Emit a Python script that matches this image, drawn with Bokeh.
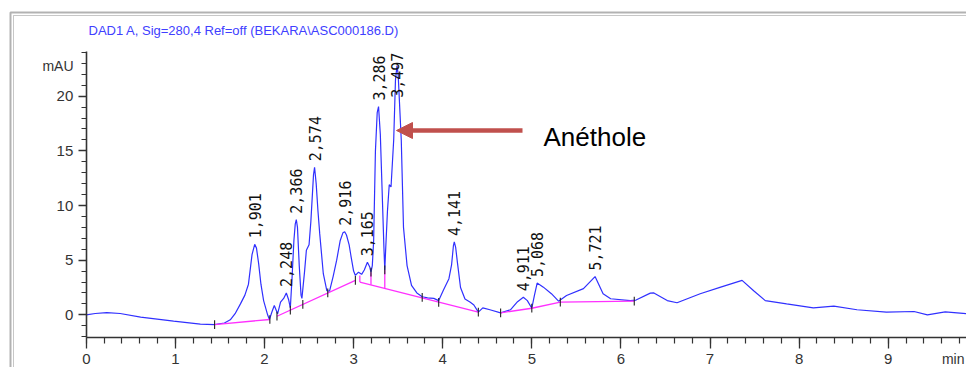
import numpy as np
from bokeh.plotting import figure
from bokeh.models import (Range1d, LinearAxis, FixedTicker, BoxAnnotation, Arrow,
                          NormalHead, Label, ColumnDataSource)
from bokeh.core.properties import value
from bokeh.embed import file_html
from bokeh.resources import INLINE

# ---------------- data ----------------
time_min = [0.00, 0.10, 0.23, 0.38, 0.61, 0.98, 1.28, 1.44, 1.55, 1.616, 1.67, 1.73, 1.78,
            1.82, 1.86, 1.89, 1.91, 1.934, 1.96, 1.99, 2.035, 2.055, 2.085, 2.11, 2.147,
            2.18, 2.215, 2.245, 2.27, 2.29, 2.31, 2.33, 2.345, 2.357, 2.37, 2.39, 2.41,
            2.42, 2.45, 2.47, 2.50, 2.52, 2.55, 2.562, 2.58, 2.60, 2.62, 2.66, 2.70, 2.73,
            2.77, 2.81, 2.85, 2.88, 2.90, 2.92, 2.95, 2.97, 3.00, 3.02, 3.055, 3.09, 3.12,
            3.155, 3.18, 3.195, 3.21, 3.225, 3.245, 3.265, 3.28, 3.30, 3.32, 3.34, 3.35,
            3.36, 3.38, 3.40, 3.42, 3.45, 3.47, 3.487, 3.50, 3.535, 3.56, 3.60, 3.65, 3.71,
            3.77, 3.83, 3.90, 3.955, 4.01, 4.07, 4.10, 4.12, 4.13, 4.145, 4.165, 4.20, 4.25,
            4.31, 4.35, 4.40, 4.45, 4.53, 4.65, 4.76, 4.84, 4.905, 4.95, 5.00, 5.03, 5.06,
            5.13, 5.22, 5.30, 5.39, 5.58, 5.71, 5.80, 5.885, 6.105, 6.17, 6.33, 6.37, 6.52,
            6.63, 6.89, 7.12, 7.36, 7.49, 7.62, 7.86, 8.16, 8.39, 8.65, 8.98, 9.29, 9.44,
            9.64, 9.88]
signal_mau = [0.0, 0.12, 0.2, 0.12, -0.22, -0.58, -0.85, -0.89, -0.75, -0.46, 0.1, 1.0, 1.8,
              2.8, 5.5, 6.45, 6.1, 4.7, 2.8, 1.3, 0.0, -0.43, 0.3, 0.85, 0.09,
              1.16, 1.5, 2.0, 1.4, 0.64, 3.5, 6.8, 8.3, 8.7, 8.0, 4.5, 1.8,
              1.5, 4.0, 5.9, 6.4, 8.5, 12.8, 13.5, 12.0, 9.5, 7.4, 3.76, 2.2, 2.17,
              3.5, 5.0, 6.8, 7.5, 7.6, 7.3, 6.4, 5.4, 4.0, 3.6, 3.9, 3.7, 4.1,
              4.8, 4.4, 3.9, 4.5, 6.8, 15.0, 18.5, 19.05, 16.5, 11.4, 6.2, 4.1,
              6.0, 9.5, 11.9, 11.7, 16.0, 21.5, 22.8, 22.0, 16.0, 8.0, 4.5, 2.7, 2.0,
              1.65, 1.55, 1.5, 1.3, 2.3, 3.3, 4.6, 6.3, 6.66, 6.2, 4.8, 2.5, 1.45,
              1.15, 0.9, 0.24, 0.64, 0.46, 0.18, 0.46, 1.2, 1.6, 1.3, 0.6, 1.8, 2.9,
              2.53, 1.93, 1.25, 1.77, 2.39, 3.5, 1.93, 1.47, 1.3, 1.35, 1.98, 2.0, 1.3,
              1.1, 1.93, 2.53, 3.15, 2.2, 1.3, 1.0, 0.64, 0.79, 0.46, 0.24, 0.3, 0.0,
              0.27, 0.1]

# integration baselines (NaN separates segments)
base_t = [1.44, 2.06, np.nan, 2.14, 3.02, np.nan, 3.07, 4.40, np.nan, 4.65, 5.00, 5.32, 6.15]
base_v = [-0.89, -0.43, np.nan, -0.13, 3.15, np.nan, 3.0, 0.24, np.nan, 0.18, 0.6, 1.16, 1.25]

# drop lines from baseline up to valleys
drop_t = [3.07, 3.195, 3.35]
drop_v0 = [3.0, 2.74, 2.42]
drop_v1 = [3.6, 3.9, 4.1]

# peak start/end tick marks
event_t = [1.44, 2.06, 2.14, 2.29, 2.43, 2.71, 3.02, 3.195, 3.35, 3.77, 3.955, 4.40,
           4.65, 5.00, 5.32, 6.15]
event_v = [-0.89, -0.43, -0.13, 0.43, 0.95, 2.0, 3.15, 3.9, 4.1, 1.6, 1.13, 0.24,
           0.18, 0.6, 1.16, 1.25]

# labelled peaks
peak_labels = ["1,901", "2,248", "2,366", "2,574", "2,916", "3,165", "3,286", "3,497",
               "4,141", "4,911", "5,068", "5,721"]
peak_t = [1.89, 2.245, 2.357, 2.562, 2.90, 3.155, 3.28, 3.487, 4.13, 4.905, 5.06, 5.71]
peak_h = [6.45, 2.0, 8.7, 13.5, 7.6, 4.8, 19.05, 22.8, 6.66, 1.6, 2.9, 3.5]

x_major = [0, 1, 2, 3, 4, 5, 6, 7, 8, 9]
y_major = [0, 5, 10, 15, 20]

title_text = "DAD1 A, Sig=280,4 Ref=off (BEKARA\\ASC000186.D)"
annot_text = "Anéthole"

# ---------------- geometry ----------------
W, H = 966, 367
X0PX, XSCALE = 85.8, 89.1      # px of t=0, px per minute
Y0PX, YSCALE = 314.3, 10.93    # px of 0 mAU, px per mAU


def px2x(px):
    return (px - X0PX) / XSCALE


def py2y(py):
    return (Y0PX - py) / YSCALE


p = figure(width=W, height=H, output_backend="svg", toolbar_location=None,
           x_range=Range1d(px2x(0), px2x(W)), y_range=Range1d(py2y(H), py2y(0)),
           x_axis_type=None, y_axis_type=None, min_border=0)
p.min_border_left = p.min_border_right = p.min_border_top = p.min_border_bottom = 0
p.outline_line_color = None
p.background_fill_color = "white"
p.border_fill_color = "white"

axis_font = "Liberation Sans"
y_bottom, y_top = -2.08, 24.1

xaxis = LinearAxis(fixed_location=y_bottom, bounds=(0, 10.5),
                   ticker=FixedTicker(ticks=x_major, minor_ticks=list(np.round(np.arange(0, 10.0, 0.2), 2))))
yaxis = LinearAxis(fixed_location=0, bounds=(y_bottom, y_top),
                   ticker=FixedTicker(ticks=y_major, minor_ticks=list(range(-2, 25))))
for ax in (xaxis, yaxis):
    ax.axis_line_color = "#333333"
    ax.axis_line_width = 1.6
    ax.major_tick_line_color = "#333333"
    ax.minor_tick_line_color = "#333333"
    ax.major_tick_line_width = 1.3
    ax.minor_tick_line_width = 1.2
    ax.major_tick_in = 0
    ax.minor_tick_in = 0
    ax.major_label_text_font = axis_font
    ax.major_label_text_font_size = "15px"
    ax.major_label_text_color = "#333333"
xaxis.major_tick_out = 11
xaxis.minor_tick_out = 6
xaxis.major_label_standoff = 5
yaxis.major_tick_out = 8
yaxis.minor_tick_out = 5
yaxis.major_label_standoff = 5
p.add_layout(xaxis, "below")
p.add_layout(yaxis, "left")

# outer double frame
p.add_layout(BoxAnnotation(left=px2x(10), top=py2y(12), right=px2x(1200), bottom=py2y(800),
                           fill_alpha=0, line_color="black", line_width=2))
p.add_layout(BoxAnnotation(left=px2x(13), top=py2y(15), right=px2x(1200), bottom=py2y(800),
                           fill_alpha=0, line_color="#444444", line_width=1))

# chromatogram
p.line(time_min, signal_mau, line_color="#3030ff", line_width=1.2)
# baselines and drop lines
p.line(base_t, base_v, line_color="#ff30ff", line_width=1.3)
p.segment(drop_t, drop_v0, drop_t, drop_v1, line_color="#ff30ff", line_width=1.3)
ev_t = np.array(event_t)
ev_v = np.array(event_v)
p.segment(ev_t, ev_v - 0.4, ev_t, ev_v + 0.4, line_color="#222222", line_width=1.1)

# peak labels (rotated)
lab_y = np.minimum(np.array(peak_h), 19.3) + 6 / YSCALE
src = ColumnDataSource(dict(x=peak_t, y=lab_y, text=peak_labels))
p.text(x="x", y="y", text="text", source=src, angle=np.pi / 2, text_align="left",
       text_baseline="middle", text_font=value("DejaVu Sans Mono"),
       text_font_size="15px", text_color="#111111")

# title
p.add_layout(Label(x=px2x(88), y=py2y(30), text=title_text, text_font=axis_font,
                   text_font_size="13px", text_color="#4040ff", text_baseline="middle",
                   text_align="left"))
# unit label
p.add_layout(Label(x=px2x(73), y=py2y(65), text="mAU", text_font=axis_font,
                   text_font_size="14px", text_color="#333333", text_baseline="middle",
                   text_align="right"))
# axis title at far right (kept inside the picture)
p.add_layout(Label(x=px2x(964), y=py2y(366), text="min", text_font=axis_font,
                   text_font_size="14px", text_color="#333333", text_baseline="bottom",
                   text_align="right"))

# arrow + compound name
p.add_layout(Arrow(end=NormalHead(size=16, fill_color="#c0504d", line_color="#c0504d"),
                   x_start=px2x(522), y_start=py2y(130), x_end=px2x(396), y_end=py2y(130),
                   line_color="#c0504d", line_width=4.5))
p.add_layout(Label(x=px2x(543), y=py2y(136), text=annot_text, text_font="Liberation Sans",
                   text_font_size="26px", text_color="black", text_baseline="alphabetic",
                   text_align="left"))

open("out.html", "w").write(file_html(p, INLINE))
